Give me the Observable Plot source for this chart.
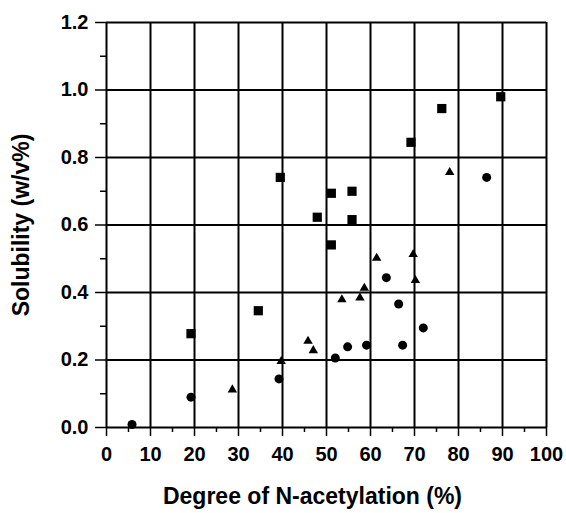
<!DOCTYPE html>
<html><head><meta charset="utf-8">
<script src="https://cdn.jsdelivr.net/npm/d3@7"></script>
<script src="https://cdn.jsdelivr.net/npm/@observablehq/plot@0.6"></script>
<style>body{margin:0;background:#fff;} svg{display:block}</style>
</head><body><div id="chart"></div>
<script>
// Squares
const squareX = [19.2, 34.5, 39.5, 47.9, 51.1, 51.1, 55.8, 55.8, 69.2, 76.2, 89.6];
const squareY = [0.278, 0.346, 0.741, 0.623, 0.694, 0.541, 0.700, 0.616, 0.845, 0.945, 0.980];
// Circles
const circleX = [5.8, 19.2, 39.2, 52.0, 54.8, 59.1, 63.6, 66.4, 67.3, 72.0, 86.4];
const circleY = [0.009, 0.090, 0.144, 0.206, 0.239, 0.244, 0.444, 0.366, 0.244, 0.295, 0.741];
// Triangles
const triX = [28.6, 39.7, 45.8, 47.0, 53.5, 57.6, 58.6, 61.4, 69.7, 70.2, 78.0];
const triY = [0.112, 0.196, 0.256, 0.228, 0.379, 0.384, 0.413, 0.502, 0.513, 0.436, 0.756];

const xTicks = [0, 10, 20, 30, 40, 50, 60, 70, 80, 90, 100];
const xMinor = [5, 15, 25, 35, 45, 55, 65, 75, 85, 95];
const yTicks = [0, 0.2, 0.4, 0.6, 0.8, 1.0, 1.2];
const yMinor = [0.1, 0.3, 0.5, 0.7, 0.9, 1.1];
const xTitle = "Degree of N-acetylation (%)";
const yTitle = "Solubility (w/v%)";

const toRows = (xs, ys) => xs.map((x, i) => ({x, y: ys[i]}));

const plot = Plot.plot({
  width: 566, height: 513,
  marginLeft: 106, marginRight: 20, marginTop: 22, marginBottom: 86,
  x: {domain: [0, 100]},
  y: {domain: [0, 1.2]},
  style: {fontFamily: "'Liberation Sans', Arial, sans-serif", fontWeight: "bold", background: "white", color: "black"},
  marks: [
    Plot.ruleX(xTicks, {stroke: "black", strokeWidth: 2}),
    Plot.ruleY(yTicks, {stroke: "black", strokeWidth: 2}),
    Plot.axisX(xTicks, {tickSize: 9, tickPadding: 10, fontSize: 20, fontWeight: "bold", label: null, strokeWidth: 1.5, tickFormat: d => String(d)}),
    Plot.axisX(xMinor, {tickSize: 5, label: null, strokeWidth: 1.5, tickFormat: () => ""}),
    Plot.axisY(yTicks, {tickSize: 11, tickPadding: 7, fontSize: 20, fontWeight: "bold", label: null, strokeWidth: 1.5, tickFormat: d => d.toFixed(1)}),
    Plot.axisY(yMinor, {tickSize: 6, label: null, strokeWidth: 1.5, tickFormat: () => ""}),
    Plot.dot(toRows(squareX, squareY), {x: "x", y: "y", symbol: "square", r: 5.2, fill: "black", stroke: "none"}),
    Plot.dot(toRows(circleX, circleY), {x: "x", y: "y", symbol: "circle", r: 4.5, fill: "black", stroke: "none"}),
    Plot.dot(toRows(triX, triY), {x: "x", y: "y", symbol: "triangle", r: 3.5, fill: "black", stroke: "none"}),
    Plot.text([xTitle], {frameAnchor: "bottom", lineAnchor: "middle", textAnchor: "middle", dy: 69, dx: -14, fontSize: 23, fontWeight: "bold"}),
    Plot.text([yTitle], {frameAnchor: "left", lineAnchor: "middle", textAnchor: "middle", dx: -85, rotate: -90, fontSize: 23, fontWeight: "bold"})
  ]
});
document.getElementById("chart").appendChild(plot);
</script>
</body></html>
